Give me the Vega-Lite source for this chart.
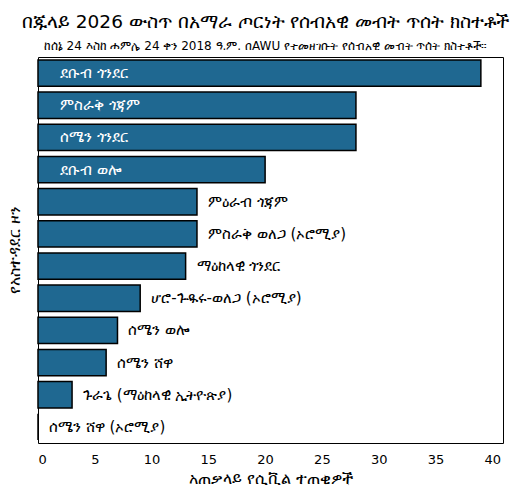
{
  "$schema": "https://vega.github.io/schema/vega-lite/v6.json",
  "autosize": {"type": "none"},
  "padding": {"left": 38, "top": 57, "right": 18, "bottom": 53},
  "width": 465,
  "height": 386,
  "background": "white",
  "config": {
    "font": "DejaVu Sans",
    "view": {"stroke": "black", "strokeWidth": 1}
  },
  "title": {
    "text": "በጁላይ 2026 ውስጥ በአማራ ጦርነት የሰብአዊ መብት ጥሰት ክስተቶች",
    "subtitle": "ከሰኔ 24 እስከ ሐምሌ 24 ቀን 2018 ዓ.ም. በAWU የተመዘገቡት የሰብአዊ መብት ጥሰት ክስተቶች።",
    "anchor": "middle",
    "font": "DejaVu Sans",
    "fontSize": 18.5,
    "fontWeight": "normal",
    "color": "black",
    "subtitleFont": "DejaVu Sans",
    "subtitleFontSize": 12,
    "subtitleColor": "black",
    "subtitlePadding": 10,
    "offset": 5,
    "dx": -5
  },
  "data": {
    "values": [
      {"zone": "ደቡብ ጎንደር", "count": 39},
      {"zone": "ምስራቅ ጎጃም", "count": 28},
      {"zone": "ሰሜን ጎንደር", "count": 28},
      {"zone": "ደቡብ ወሎ", "count": 20},
      {"zone": "ምዕራብ ጎጃም", "count": 14},
      {"zone": "ምስራቅ ወለጋ (ኦሮሚያ)", "count": 14},
      {"zone": "ማዕከላዊ ጎንደር", "count": 13},
      {"zone": "ሆሮ-ጉዱሩ-ወለጋ (ኦሮሚያ)", "count": 9},
      {"zone": "ሰሜን ወሎ", "count": 7},
      {"zone": "ሰሜን ሸዋ", "count": 6},
      {"zone": "ጉራጌ (ማዕከላዊ ኢትዮጵያ)", "count": 3},
      {"zone": "ሰሜን ሸዋ (ኦሮሚያ)", "count": 0}
    ]
  },
  "encoding": {
    "y": {
      "field": "zone",
      "type": "nominal",
      "sort": null,
      "title": "የአስተዳደር ዞን",
      "scale": {"paddingInner": 0.18, "paddingOuter": 0.09},
      "axis": {
        "labels": false,
        "ticks": false,
        "domain": false,
        "titleFont": "DejaVu Sans",
        "titleFontSize": 15.5,
        "titleFontWeight": "normal",
        "titleColor": "black",
        "titlePadding": 16
      }
    }
  },
  "layer": [
    {
      "mark": {"type": "bar", "color": "#1f6891", "stroke": "black", "strokeWidth": 1.5},
      "encoding": {
        "x": {
          "field": "count",
          "type": "quantitative",
          "title": "አጠቃላይ የሲቪል ተጠቂዎች",
          "scale": {"domain": [0, 40.95], "nice": false},
          "axis": {
            "values": [0, 5, 10, 15, 20, 25, 30, 35, 40],
            "grid": false,
            "ticks": false,
            "domain": false,
            "labelFont": "DejaVu Sans",
            "labelFontSize": 13,
            "labelColor": "black",
            "labelPadding": 10,
            "titleFont": "DejaVu Sans",
            "titleFontSize": 15.5,
            "titleFontWeight": "normal",
            "titleColor": "black",
            "titlePadding": 5
          }
        }
      }
    },
    {
      "transform": [{"filter": "datum.count >= 20"}],
      "mark": {"type": "text", "align": "left", "baseline": "middle", "dx": 22, "color": "white", "fontSize": 15, "font": "DejaVu Sans"},
      "encoding": {
        "x": {"datum": 0, "type": "quantitative"},
        "text": {"field": "zone"}
      }
    },
    {
      "transform": [{"filter": "datum.count < 20"}],
      "mark": {"type": "text", "align": "left", "baseline": "middle", "dx": 11, "color": "black", "fontSize": 15, "font": "DejaVu Sans"},
      "encoding": {
        "x": {"field": "count", "type": "quantitative"},
        "text": {"field": "zone"}
      }
    }
  ]
}
